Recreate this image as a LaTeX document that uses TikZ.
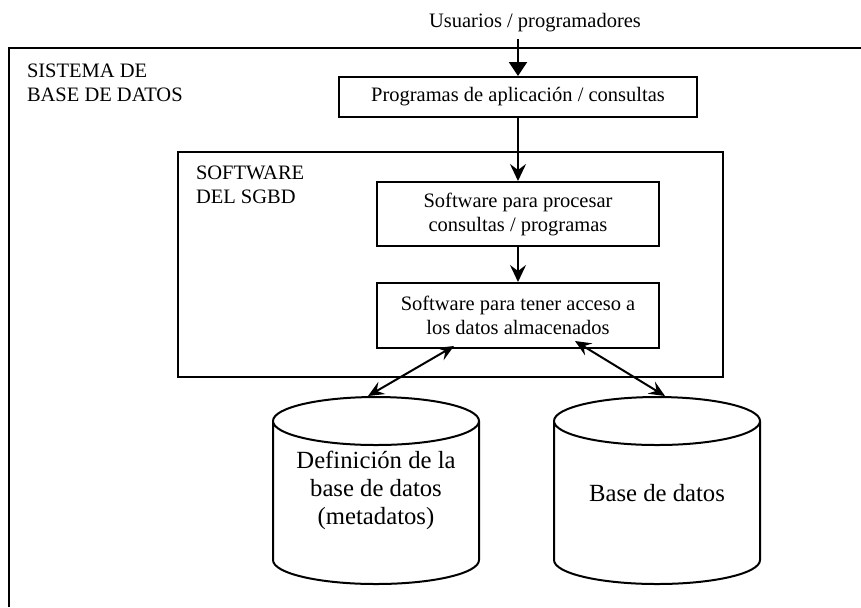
\documentclass[tikz,border=0pt]{standalone}
\usepackage{fontspec}
\setmainfont{Liberation Serif}
\usetikzlibrary{arrows.meta,shapes.geometric}

\begin{document}
\begin{tikzpicture}[x=0.5pt,y=-0.5pt,line width=1pt,
  txt/.style={font=\fontsize{10.25}{12}\selectfont,align=center},
  caja/.style={txt,draw,inner sep=0pt},
  disco/.style={draw,cylinder,shape border rotate=90,aspect=0.6,anchor=north,
    minimum width=103pt,minimum height=93.5pt,inner sep=20pt},
  discotxt/.style={font=\fontsize{12.35}{14}\selectfont,align=center,inner sep=0pt},
  entra/.style={-{Triangle[length=7pt,width=9pt]}},
  flecha/.style={-{Stealth[length=8.5pt,width=8pt,inset=3pt]}},
  doble/.style={{Stealth[length=8pt,width=7pt,inset=3pt]}-{Stealth[length=8pt,width=7pt,inset=3pt]}}]
\useasboundingbox (0,0) rectangle (861,607);
\draw (9,607) -- (9,48) -- (861,48);
\node[txt,anchor=north west,align=left,inner sep=0pt] (sis) at (26,63) {SISTEMA DE\\BASE DE DATOS};
\node[txt,anchor=base] (usr) at (535,27) {Usuarios / programadores};
\node[caja,minimum width=179pt,minimum height=20pt] (app) at (518,97) {Programas de aplicación / consultas};
\node[draw,minimum width=272.5pt,minimum height=112.5pt] (sgbd) at (450.5,264.5) {};
\node[txt,anchor=north west,align=left,inner sep=0pt] (sw) at (195,165) {SOFTWARE\\DEL SGBD};
\node[caja,minimum width=141pt,minimum height=32pt] (proc) at (518,214) {Software para procesar\\consultas / programas};
\node[caja,minimum width=141pt,minimum height=32.5pt] (acc) at (518,315.5) {Software para tener acceso a\\los datos almacenados};
\node[disco] (meta) at (376,396) {};
\node[disco] (bd) at (657,396) {};
\node[discotxt] (metatxt) at (376,490) {Definición de la\\base de datos\\(metadatos)};
\node[discotxt] (bdtxt) at (657,493) {Base de datos};
%
\draw[entra] (usr.south -| app.north) -- (app.north);
\draw[flecha] (app) -- (proc);
\draw[flecha] (proc) -- (acc);
\draw[doble] ([xshift=-32pt,yshift=1.5pt]acc.south) -- ([xshift=-4pt]meta.north);
\draw[doble] ([xshift=28.5pt,yshift=4pt]acc.south) -- ([xshift=4pt]bd.north);
\end{tikzpicture}
\end{document}
